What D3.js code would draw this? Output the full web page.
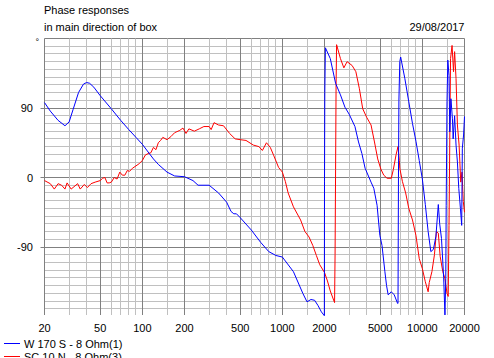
<!DOCTYPE html>
<html>
<head>
<meta charset="utf-8">
<script src="https://cdnjs.cloudflare.com/ajax/libs/d3/7.8.5/d3.min.js"></script>
<style>
  body { margin: 0; background: #fff; }
  svg { display: block; font-family: "Liberation Sans", Arial, sans-serif; }
  .lbl { font-size: 11px; fill: #000; }
</style>
</head>
<body>
<svg width="494" height="358"></svg>
<script>
// W 170 S - 8 Ohm(1), blue
var freqW = [20,22,25,28,30,32,35,38,40,42,45,50,60,70,80,90,100,110,120,130,150,170,200,230,250,300,350,400,430,450,470,500,600,700,800,900,1000,1200,1400,1500,1600,1700,1800,1900,1995,2000,2010,2030,2200,2400,2600,2800,3000,3300,3500,3700,3900,4300,4500,4750,4970,5150,5400,5550,5700,6000,6300,6650,6700,6750,6800,6900,7000,7500,8000,8500,9000,9500,10000,10500,11000,11500,12000,12500,13000,13300,13700,14200,14500,14700,14800,15000,15200,15500,15700,16000,16400,16600,17000,17400,17800,18200,18700,19100,19300,19700,20000];
var phaseW = [97,86,74,67,72,88,110,121,123,122,117,106,89,74,62,52,43,33,24,17,7,2,1,-4,-10,-10,-20,-32,-44,-47,-47,-52,-68,-84,-96,-101,-103,-122,-150,-161,-158,-159,-166,-174,-179,-5,110,168,154,122,107,91,82,66,46,31,12,-6,-14,-36,-75,-88,-122,-140,-152,-148,-152,-163,-163,0,100,150,156,128,98,70,47,22,-2,-35,-70,-96,-93,-76,-35,-60,-79,-130,-178,-131,-36,98,152,132,59,102,76,50,80,42,20,-14,-40,-62,38,55,79];

// SC 10 N - 8 Ohm(3), red
var freqS = [20,22,23.5,25,26.5,28,29,31,34.5,36,38.5,40.5,43,46,50,52,54,56,58,60,63,66,69,72,75,78,81,85,90,95,100,105,110,115,120,125,130,135,140,150,160,170,185,195,205,215,235,255,275,300,310,325,350,380,420,460,500,550,620,680,720,770,820,870,940,1000,1050,1100,1200,1350,1450,1550,1650,1750,1850,2000,2100,2200,2360,2380,2400,2420,2440,2600,2750,2900,3150,3350,3550,3750,4000,4300,4550,4800,5050,5300,5600,6000,6200,6500,6700,6850,6900,7200,7600,8000,8500,9000,9500,10000,10500,11000,11200,11700,12200,12600,13000,13400,14000,14500,15000,15300,15500,15700,15900,16300,16700,17000,17400,17800,18300,18800,19200,19600,20000];
var phaseS = [-4,-8,-15,-8,-10,-15,-7,-15,-8,-15,-9,-13,-8,-6,-4,-1,0,-7,-7,-6,0,-2,7,3,3,9,8,12,15,18,22,29,31,32,39,36,45,48,52,49,53,58,61,64,57,63,60,63,66,66,62,71,68,67,57,50,49,48,42,40,35,45,39,28,13,7,-5,-20,-38,-55,-70,-77,-88,-101,-113,-123,-134,-147,-162,-100,10,120,172,154,142,150,145,137,115,89,78,68,46,24,11,3,-1,-1,10,30,40,22,12,-5,-20,-40,-55,-75,-105,-118,-135,-148,-136,-122,-100,-70,-72,-102,-122,-131,-150,-154,-62,50,154,171,137,163,128,68,42,-6,7,-31,-45];

var xTicks = [20,50,100,200,500,1000,2000,5000,10000,20000];
var xMinor = [30,40,60,70,80,90,150,300,400,600,700,800,900,1500,3000,4000,6000,7000,8000,9000,15000];
var yTicks = [90,0,-90];

var svg = d3.select("svg");

var x = d3.scaleLog().domain([20, 20000]).range([44.5, 464.5]);
var y = d3.scaleLinear().domain([-180, 180]).range([316.5, 38.5]);

var top_ = y(180), bottom = 315;

// horizontal grid, every 10 degrees (the -180 line is not drawn)
var hLines = d3.range(-170, 181, 10);
svg.append("g").selectAll("line")
    .data(hLines)
  .enter().append("line")
    .attr("x1", function(d) { return (d % 90 === 0 && d !== 180) ? x(20) - 4 : x(20); })
    .attr("x2", x(20000))
    .attr("y1", function(d) { return Math.round(y(d) - 0.5) + 0.5; })
    .attr("y2", function(d) { return Math.round(y(d) - 0.5) + 0.5; })
    .attr("stroke", function(d) { return d % 90 === 0 ? "#808080" : "#c0c0c0"; });

// vertical grid, minor first then major on top
svg.append("g").selectAll("line")
    .data(xMinor)
  .enter().append("line")
    .attr("x1", function(d) { return Math.round(x(d) - 0.5) + 0.5; })
    .attr("x2", function(d) { return Math.round(x(d) - 0.5) + 0.5; })
    .attr("y1", top_)
    .attr("y2", bottom)
    .attr("stroke", "#c0c0c0");

svg.append("g").selectAll("line")
    .data(xTicks)
  .enter().append("line")
    .attr("x1", function(d) { return Math.round(x(d) - 0.5) + 0.5; })
    .attr("x2", function(d) { return Math.round(x(d) - 0.5) + 0.5; })
    .attr("y1", top_)
    .attr("y2", bottom)
    .attr("stroke", "#808080");

// the curves
var line = d3.line()
    .x(function(d) { return x(d[0]); })
    .y(function(d) { return y(d[1]); });

svg.append("path")
    .datum(d3.zip(freqS, phaseS))
    .attr("fill", "none")
    .attr("stroke", "#ff0000")
    .attr("stroke-width", 1)
    .attr("d", line);

svg.append("path")
    .datum(d3.zip(freqW, phaseW))
    .attr("fill", "none")
    .attr("stroke", "#0000ff")
    .attr("stroke-width", 1)
    .attr("d", line);

// axis labels
svg.append("g").selectAll("text")
    .data(xTicks)
  .enter().append("text")
    .attr("class", "lbl")
    .attr("x", function(d) { return x(d); })
    .attr("y", 332)
    .attr("text-anchor", "middle")
    .text(function(d) { return d; });

svg.append("g").selectAll("text")
    .data(yTicks)
  .enter().append("text")
    .attr("class", "lbl")
    .attr("x", 33)
    .attr("y", function(d) { return y(d) + 4; })
    .attr("text-anchor", "end")
    .text(function(d) { return d; });

svg.append("text").attr("class", "lbl")
    .attr("x", 35.5).attr("y", 45).style("font-size", "9px")
    .text("°");

// titles
svg.append("text").attr("class", "lbl")
    .attr("x", 44).attr("y", 14)
    .text("Phase responses");
svg.append("text").attr("class", "lbl")
    .attr("x", 44).attr("y", 30.5)
    .text("in main direction of box");
svg.append("text").attr("class", "lbl")
    .attr("x", 464.5).attr("y", 30.5)
    .attr("text-anchor", "end")
    .text("29/08/2017");

// legend (second entry is cut by the bottom edge, as in the original)
var legend = [
  {name: "W 170 S - 8 Ohm(1)", color: "#0000ff"},
  {name: "SC 10 N - 8 Ohm(3)", color: "#ff0000"}
];
var lg = svg.append("g").selectAll("g")
    .data(legend)
  .enter().append("g")
    .attr("transform", function(d, i) { return "translate(0," + (i * 13) + ")"; });
lg.append("line")
    .attr("x1", 4).attr("x2", 20)
    .attr("y1", 343.5).attr("y2", 343.5)
    .attr("stroke", function(d) { return d.color; });
lg.append("text").attr("class", "lbl")
    .attr("x", 24).attr("y", 347.5)
    .text(function(d) { return d.name; });
</script>
</body>
</html>
